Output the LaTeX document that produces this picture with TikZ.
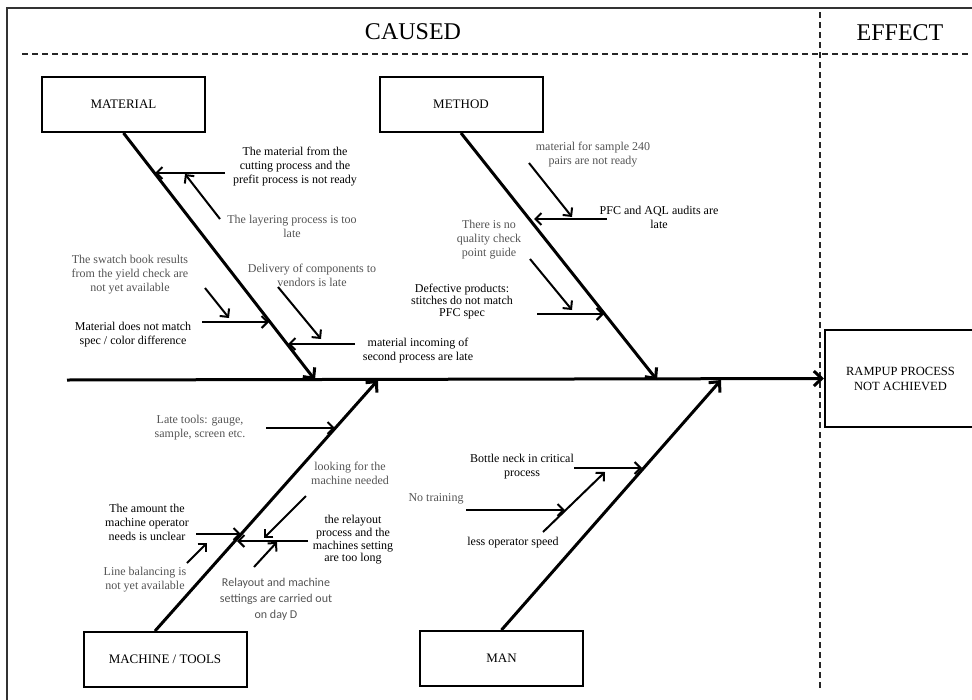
\documentclass[tikz,border=0pt]{standalone}
\usepackage{fontspec}
\setmainfont{Liberation Serif}
\newfontfamily\calibrifont{Carlito}
\usepackage{tikz}
\usetikzlibrary{calc,arrows.meta}
\definecolor{faintgrey}{gray}{0.33}
\tikzstyle{catbox}=[rectangle,draw=black,line width=2pt,fill=white,
                    minimum width=163pt,minimum height=55pt,
                    font=\fontsize{13}{15}\selectfont,inner sep=2pt]
\tikzstyle{cause}=[align=center,inner sep=0pt,font=\fontsize{12}{14}\selectfont]
\tikzstyle{subcause}=[cause,text=faintgrey]
\tikzstyle{bone}=[line width=3pt,-{Straight Barb[length=8pt,width=15pt]}]
\tikzstyle{twig}=[line width=2pt,-{Straight Barb[length=6pt,width=12pt]}]
\tikzstyle{divider}=[line width=1.4pt,dash pattern=on 6pt off 4pt,draw=black!85]
\tikzstyle{heading}=[font=\fontsize{24}{27}\selectfont,inner sep=0pt]

\begin{document}
\begin{tikzpicture}[x=1pt,y=-1pt]
    \useasboundingbox (0,0) rectangle (972,699);
    % frame and the two areas
    \draw[line width=1.5pt,draw=black!80] (7,710) -- (7,8) -- (985,8);
    \draw[divider] (22,54) -- (972,54);
    \draw[divider] (820,12) -- (820,688);
    \node [heading] (caused) at (413,32) {CAUSED};
    \node [heading] (effect) at (900,33) {EFFECT};

    % categories
    \node [catbox] (mat) at (123.5,104.5) {MATERIAL};
    \node [catbox] (met) at (461,104.5) {METHOD};
    \node [catbox] (mach) at (165,659.5) {MACHINE / TOOLS};
    \node [catbox] (man) at (501.5,658.5) {MAN};
    \node [catbox,minimum width=151pt,minimum height=97pt,align=center,
           font=\fontsize{12.5}{15}\selectfont]
        (res) at (900.5,378.5) {RAMPUP PROCESS\\NOT ACHIEVED};

    % spine and bones
    \coordinate (tail) at (67,380);
    \coordinate (matHead) at (315,380);
    \coordinate (metHead) at (657,380);
    \coordinate (machHead) at (378,380);
    \coordinate (manHead) at (721,380);
    \draw[bone] (tail) -- (res.west);
    \draw[bone] (mat.south) -- (matHead);
    \draw[bone] (met.south) -- (metHead);
    \draw[bone] ($(mach.north)+(-10,0)$) -- (machHead);
    \draw[bone] (man.north) -- (manHead);

    % material
    \node [cause] (matA) at (295,167) {The material from the\\cutting process and the\\prefit process is not ready};
    \node [subcause] (matB) at (292,226) {The layering process is too\\late};
    \node [subcause] (matC) at (130,275) {The swatch book results\\from the yield check are\\not yet available};
    \node [cause] (matD) at (133,335) {Material does not match\\spec / color difference};
    \node [subcause] (matE) at (312,275) {Delivery of components to\\vendors is late};
    \node [cause] (matF) at (418,351) {material incoming of\\second process are late};
    \coordinate (matA1) at (225,173); \coordinate (matA2) at (155,173);
    \coordinate (matB1) at (220,219); \coordinate (matB2) at (185,174);
    \coordinate (matC1) at (205,288); \coordinate (matC2) at (229,318);
    \coordinate (matD1) at (202,322); \coordinate (matD2) at (269,322);
    \coordinate (matE1) at (278,287); \coordinate (matE2) at (321,339);
    \coordinate (matF1) at (355,344); \coordinate (matF2) at (288,344);
    \draw[twig] (matA1) -- (matA2);
    \draw[twig] (matB1) -- (matB2);
    \draw[twig] (matC1) -- (matC2);
    \draw[twig] (matD1) -- (matD2);
    \draw[twig] (matE1) -- (matE2);
    \draw[twig] (matF1) -- (matF2);

    % method
    \node [subcause] (metA) at (593,155) {material for sample 240\\pairs are not ready};
    \node [cause] (metB) at (659,217) {PFC and AQL audits are\\late};
    \node [subcause] (metC) at (489,240) {There is no\\quality check\\point guide};
    \node [cause,font=\fontsize{12}{12}\selectfont] (metD) at (462,302) {Defective products:\\stitches do not match\\PFC spec};
    \coordinate (metA1) at (529,163); \coordinate (metA2) at (572,217);
    \coordinate (metB1) at (607,219); \coordinate (metB2) at (534,219);
    \coordinate (metC1) at (530,259); \coordinate (metC2) at (572,310);
    \coordinate (metD1) at (537,314); \coordinate (metD2) at (604,314);
    \draw[twig] (metA1) -- (metA2);
    \draw[twig] (metB1) -- (metB2);
    \draw[twig] (metC1) -- (metC2);
    \draw[twig] (metD1) -- (metD2);

    % machine / tools
    \node [subcause] (machA) at (200,428) {Late tools: gauge,\\sample, screen etc.};
    \node [subcause] (machB) at (350,473) {looking for the\\machine needed};
    \node [cause] (machC) at (147,522) {The amount the\\machine operator\\needs is unclear};
    \node [cause,font=\fontsize{12}{12.7}\selectfont] (machD) at (353,540) {the relayout\\process and the\\machines setting\\are too long};
    \node [subcause] (machE) at (145,580) {Line balancing is\\not yet available};
    \node [subcause,font=\calibrifont\fontsize{12}{16}\selectfont] (machF) at (276,599) {Relayout and machine\\settings are carried out\\on day D};
    \coordinate (machA1) at (266,428); \coordinate (machA2) at (335,428);
    \coordinate (machB1) at (306,496); \coordinate (machB2) at (264,538);
    \coordinate (machC1) at (196,534); \coordinate (machC2) at (241,534);
    \coordinate (machD1) at (308,541); \coordinate (machD2) at (237,541);
    \coordinate (machE1) at (187,563); \coordinate (machE2) at (207,543);
    \coordinate (machF1) at (254,567); \coordinate (machF2) at (277,542);
    \draw[twig] (machA1) -- (machA2);
    \draw[twig] (machB1) -- (machB2);
    \draw[twig] (machC1) -- (machC2);
    \draw[twig] (machD1) -- (machD2);
    \draw[twig] (machE1) -- (machE2);
    \draw[twig] (machF1) -- (machF2);

    % man
    \node [cause] (manA) at (522,467) {Bottle neck in critical\\process};
    \node [subcause] (manB) at (436,499) {No training};
    \node [cause] (manC) at (513,543) {less operator speed};
    \coordinate (manA1) at (574,468); \coordinate (manA2) at (642,468);
    \coordinate (manB1) at (466,510); \coordinate (manB2) at (565,510);
    \coordinate (manC1) at (543,532); \coordinate (manC2) at (605,472);
    \draw[twig] (manA1) -- (manA2);
    \draw[twig] (manB1) -- (manB2);
    \draw[twig] (manC1) -- (manC2);
\end{tikzpicture}
\end{document}
